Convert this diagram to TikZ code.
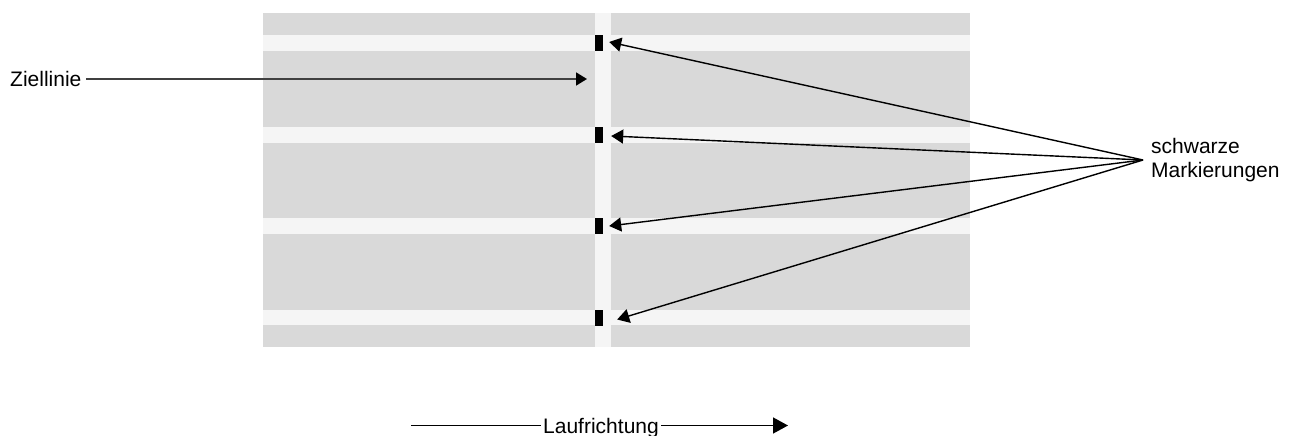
\documentclass[tikz,border=0pt]{standalone}
\usepackage{fontspec}
\setmainfont{Liberation Sans}
\usetikzlibrary{arrows.meta}
\definecolor{road}{HTML}{D9D9D9}
\definecolor{stripe}{HTML}{F5F5F5}
\definecolor{darkline}{HTML}{404040}
\tikzset{
  lbl/.style={font=\fontsize{21}{24}\selectfont, inner sep=0pt, text=black},
  marker/.style={fill=black, draw=none, minimum width=8pt, minimum height=16pt, inner sep=0pt},
  fan/.style={draw=black, line width=1.4pt, -{Triangle[length=12pt,width=14pt]}},
  ziel/.style={draw=darkline, line width=1.8pt, -{Triangle[length=11pt,width=13pt,color=black]}},
  lauf/.style={draw=black, line width=1.5pt},
}
\begin{document}
\begin{tikzpicture}[x=1pt,y=-1pt]
\useasboundingbox (0,0) rectangle (1298,436);
% road
\fill[road] (263,13) rectangle (970,347);
\foreach \a/\b in {35/51,127/143,218/234,310/325}
  \fill[stripe] (263,\a) rectangle (970,\b);
\fill[stripe] (595,13) rectangle (611,347);
% markers
\node[marker] (m1) at (599,43) {};
\node[marker] (m2) at (599,135) {};
\node[marker] (m3) at (599,226) {};
\node[marker] (m4) at (599,317.5) {};
% Ziellinie
\node[lbl, anchor=base west] (zl) at (10,86.5) {Ziellinie};
\coordinate (zielstart) at (86,79);
\coordinate (zieltip) at (587,79);
\draw[ziel] (zielstart) -- (zieltip);
% schwarze Markierungen
\node[lbl, anchor=west, align=left] (sm) at (1151,160) {schwarze\\Markierungen};
\coordinate (conv) at (1143,160);
\draw[fan] (conv) -- ([xshift=6pt,yshift=1pt]m1.east);
\draw[fan] (conv) -- ([xshift=8pt,yshift=-1pt]m2.east);
\draw[fan] (conv) -- ([xshift=6pt]m3.east);
\draw[fan] (conv) -- ([xshift=14pt,yshift=-2pt]m4.east);
% Laufrichtung
\node[lbl, anchor=base] (lr) at (601,433) {Laufrichtung};
\coordinate (lstart) at (411,425.5);
\coordinate (lmid1) at (541,425.5);
\coordinate (lmid2) at (661,425.5);
\coordinate (lend) at (788,425.5);
\draw[lauf] (lstart) -- (lmid1);
\draw[lauf, -{Triangle[length=15pt,width=16pt]}] (lmid2) -- (lend);
\end{tikzpicture}
\end{document}
